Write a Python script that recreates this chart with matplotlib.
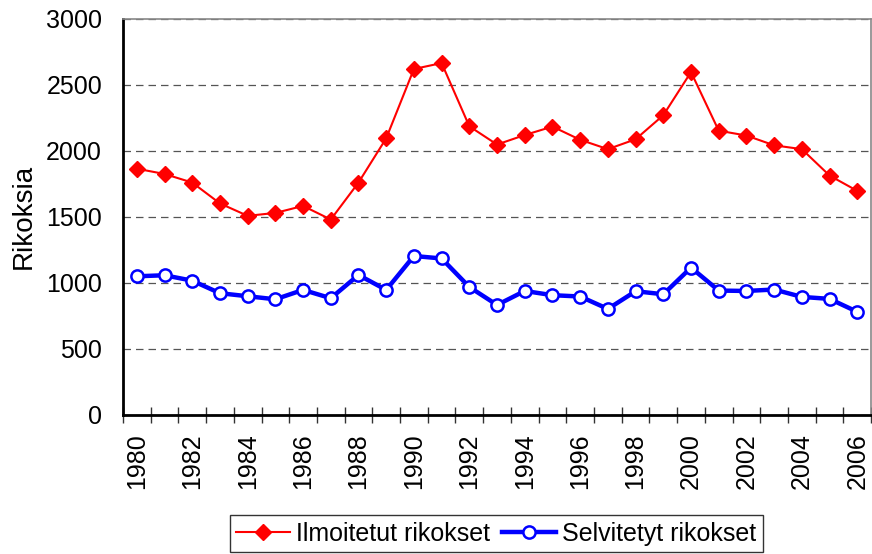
import numpy as np
import matplotlib.pyplot as plt
from matplotlib.ticker import MultipleLocator

plt.rcParams['font.family'] = ['Liberation Sans', 'DejaVu Sans']

# Reported and solved offences per year
years = list(range(1980, 2007))
reported = [1865, 1825, 1760, 1602, 1508, 1530, 1583, 1480, 1760, 2095,
            2620, 2665, 2186, 2048, 2120, 2184, 2084, 2013, 2088, 2270,
            2597, 2153, 2116, 2042, 2013, 1813, 1697]
solved = [1050, 1058, 1017, 922, 899, 876, 947, 884, 1060, 947,
          1204, 1185, 969, 833, 939, 907, 897, 803, 937, 914,
          1116, 942, 939, 950, 894, 879, 781]

fs = 18

fig = plt.figure(figsize=(8.72, 5.54), dpi=100)
ax = fig.add_axes([0.141, 0.251, 0.858, 0.715])

x = np.arange(len(years))
ax.plot(x, reported, color='#ff0000', lw=1.5, marker='D', ms=8,
        mfc='#ff0000', mec='#ff0000', label='Ilmoitetut rikokset', zorder=3)
ax.plot(x, solved, color='#0000ff', lw=3.2, marker='o', ms=8.8,
        mfc='white', mec='#0000ff', mew=1.8, label='Selvitetyt rikokset', zorder=3)

ax.set_xlim(-0.5, len(years) - 0.5)
ax.set_ylim(0, 3000)
ax.yaxis.set_major_locator(MultipleLocator(500))
ax.grid(axis='y', color='#555555', ls=(0, (6, 4)), lw=0.9)
ax.set_axisbelow(True)

# category ticks sit between years, labels every other year
ax.set_xticks(np.arange(-0.5, len(years), 1.0), minor=True)
ax.set_xticks(x[::2])
ax.set_xticklabels([str(y) for y in years[::2]], rotation=90)
ax.tick_params(axis='x', which='minor', direction='inout', length=11, width=1, color='#333333')
ax.tick_params(axis='x', which='major', length=0, pad=13, labelsize=fs)
ax.tick_params(axis='y', length=0, pad=15, labelsize=fs)

for side in ['top', 'right']:
    ax.spines[side].set_color('#888888')
    ax.spines[side].set_linewidth(1.2)
for side in ['left', 'bottom']:
    ax.spines[side].set_color('black')
    ax.spines[side].set_linewidth(2)

ax.set_ylabel('Rikoksia', fontsize=20, labelpad=7)

leg = ax.legend(loc='center', bbox_to_anchor=(0.569, 0.037), bbox_transform=fig.transFigure,
                ncol=2, fontsize=fs, frameon=True, fancybox=False, handlelength=2.15,
                handletextpad=0.25, columnspacing=0.5, borderpad=0.25, borderaxespad=0)
leg.get_frame().set_edgecolor('black')
leg.get_frame().set_linewidth(1)

fig.savefig('out.png', dpi=100)
